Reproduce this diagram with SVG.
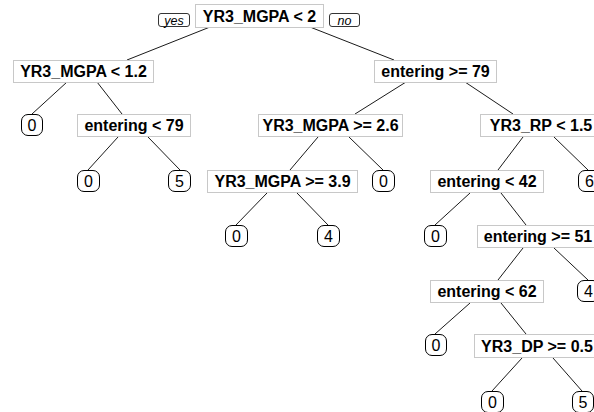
<svg xmlns="http://www.w3.org/2000/svg" width="594" height="412" viewBox="0 0 594 412">
  <style>
    .split rect { fill: #ffffff; stroke: #c8c8c8; stroke-width: 1; }
    .split text { font-family: "Liberation Sans", Arial, sans-serif; font-weight: bold; font-size: 16px; fill: #000000; text-anchor: middle; }
    .leaf rect { fill: #ffffff; stroke: #000000; stroke-width: 1; }
    .leaf text { font-family: "Liberation Sans", Arial, sans-serif; font-size: 16px; fill: #000000; text-anchor: middle; }
    .tag rect { fill: #ffffff; stroke: #000000; stroke-width: 0.8; }
    .tag text { font-family: "Liberation Sans", Arial, sans-serif; font-style: italic; font-size: 12.5px; fill: #000000; text-anchor: middle; }
    #connectors line { stroke: #1a1a1a; stroke-width: 1; fill: none; }
  </style>
  <rect x="0" y="0" width="594" height="412" fill="#ffffff"/>

  <!-- branches -->
  <g id="connectors">
    <line x1="210" y1="27" x2="127" y2="60"/>
    <line x1="310" y1="27" x2="394" y2="60"/>
    <line x1="67" y1="82" x2="32" y2="114"/>
    <line x1="97" y1="82" x2="122" y2="114"/>
    <line x1="406" y1="82" x2="355" y2="114"/>
    <line x1="465" y1="82" x2="513" y2="114"/>
    <line x1="118" y1="137" x2="88" y2="170"/>
    <line x1="148" y1="137" x2="180" y2="170"/>
    <line x1="318" y1="137" x2="290" y2="170"/>
    <line x1="349" y1="137" x2="383" y2="170"/>
    <line x1="523" y1="137" x2="498" y2="170"/>
    <line x1="554" y1="137" x2="588" y2="170"/>
    <line x1="267" y1="193" x2="236" y2="225"/>
    <line x1="297" y1="193" x2="328" y2="225"/>
    <line x1="470" y1="193" x2="435" y2="225"/>
    <line x1="501" y1="193" x2="526" y2="225"/>
    <line x1="523" y1="248" x2="498" y2="280"/>
    <line x1="554" y1="248" x2="588" y2="280"/>
    <line x1="470" y1="303" x2="435" y2="334"/>
    <line x1="501" y1="303" x2="526" y2="334"/>
    <line x1="522" y1="358" x2="492" y2="391"/>
    <line x1="553" y1="358" x2="582" y2="391"/>
  </g>

  <!-- yes / no tags on the root split -->
  <g id="tag-yes" class="tag">
    <rect x="158.5" y="13.5" width="31" height="13" rx="2.5"/>
    <text x="174" y="24.5">yes</text>
  </g>
  <g id="tag-no" class="tag">
    <rect x="329.5" y="13.5" width="30" height="13" rx="2.5"/>
    <text x="344.5" y="24.5">no</text>
  </g>

  <!-- split nodes -->
  <g id="n1" class="split">
    <rect x="195.5" y="4.5" width="128" height="23"/>
    <text x="259.5" y="21.5">YR3_MGPA &lt; 2</text>
  </g>
  <g id="n2" class="split">
    <rect x="13.5" y="60.5" width="140" height="22"/>
    <text x="83.5" y="77">YR3_MGPA &lt; 1.2</text>
  </g>
  <g id="n3" class="split">
    <rect x="374.5" y="60.5" width="122" height="22"/>
    <text x="435.5" y="77">entering &gt;= 79</text>
  </g>
  <g id="n5" class="split">
    <rect x="77.5" y="114.5" width="113" height="22"/>
    <text x="134" y="131">entering &lt; 79</text>
  </g>
  <g id="n6" class="split">
    <rect x="258.5" y="114.5" width="144" height="22"/>
    <text x="330.5" y="131">YR3_MGPA &gt;= 2.6</text>
  </g>
  <g id="n7" class="split">
    <rect x="480.5" y="114.5" width="121" height="22"/>
    <text x="541" y="131">YR3_RP &lt; 1.5</text>
  </g>
  <g id="n12" class="split">
    <rect x="207.5" y="170.5" width="150" height="22"/>
    <text x="282.5" y="187">YR3_MGPA &gt;= 3.9</text>
  </g>
  <g id="n14" class="split">
    <rect x="430.5" y="170.5" width="113" height="22"/>
    <text x="487" y="187">entering &lt; 42</text>
  </g>
  <g id="n29" class="split">
    <rect x="477.5" y="225.5" width="124" height="22"/>
    <text x="538" y="242">entering &gt;= 51</text>
  </g>
  <g id="n58" class="split">
    <rect x="430.5" y="280.5" width="113" height="22"/>
    <text x="487" y="297">entering &lt; 62</text>
  </g>
  <g id="n117" class="split">
    <rect x="474.5" y="334.5" width="127" height="23"/>
    <text x="537" y="351.5">YR3_DP &gt;= 0.5</text>
  </g>

  <!-- leaves -->
  <g id="n4" class="leaf">
    <rect x="21.5" y="114.5" width="21" height="21" rx="6.5"/>
    <text x="32" y="130.5">0</text>
  </g>
  <g id="n10" class="leaf">
    <rect x="77.5" y="170.5" width="22" height="21" rx="6.5"/>
    <text x="88.5" y="186.5">0</text>
  </g>
  <g id="n11" class="leaf">
    <rect x="168.5" y="170.5" width="22" height="21" rx="6.5"/>
    <text x="179.5" y="186.5">5</text>
  </g>
  <g id="n13" class="leaf">
    <rect x="372.5" y="170.5" width="22" height="21" rx="6.5"/>
    <text x="383.5" y="186.5">0</text>
  </g>
  <g id="n15" class="leaf">
    <rect x="578.5" y="170.5" width="22" height="21" rx="6.5"/>
    <text x="589.5" y="186.5">6</text>
  </g>
  <g id="n24" class="leaf">
    <rect x="225.5" y="225.5" width="22" height="21" rx="6.5"/>
    <text x="236.5" y="241.5">0</text>
  </g>
  <g id="n25" class="leaf">
    <rect x="317.5" y="225.5" width="22" height="21" rx="6.5"/>
    <text x="328.5" y="241.5">4</text>
  </g>
  <g id="n28" class="leaf">
    <rect x="424.5" y="225.5" width="22" height="21" rx="6.5"/>
    <text x="435.5" y="241.5">0</text>
  </g>
  <g id="n59" class="leaf">
    <rect x="577.5" y="280.5" width="22" height="21" rx="6.5"/>
    <text x="588.5" y="296.5">4</text>
  </g>
  <g id="n116" class="leaf">
    <rect x="425.5" y="334.5" width="21" height="21" rx="6.5"/>
    <text x="436" y="350.5">0</text>
  </g>
  <g id="n234" class="leaf">
    <rect x="481.5" y="391.5" width="22" height="21" rx="6.5"/>
    <text x="492.5" y="407.5">0</text>
  </g>
  <g id="n235" class="leaf">
    <rect x="572.5" y="391.5" width="21" height="21" rx="6.5"/>
    <text x="583" y="407.5">5</text>
  </g>
</svg>
